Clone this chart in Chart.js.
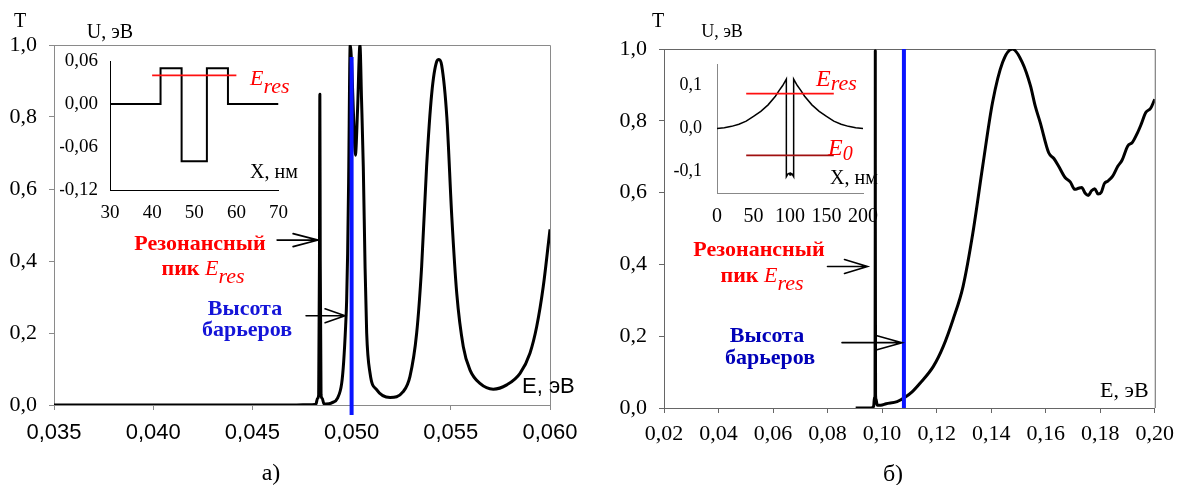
<!DOCTYPE html>
<html><head><meta charset="utf-8">
<script src="https://cdn.jsdelivr.net/npm/chart.js@4/dist/chart.umd.min.js"></script>
<style>
body{margin:0;width:1182px;height:485px;background:#fff;position:relative;overflow:hidden;font-family:'Liberation Serif',serif;}
canvas{position:absolute;}
.tx{position:absolute;white-space:nowrap;line-height:1;}
</style></head><body>
<canvas id="mainA" width="590" height="485" style="left:0;top:0"></canvas>
<canvas id="mainB" width="582" height="485" style="left:600px;top:0"></canvas>
<canvas id="insA" width="240" height="210" style="left:60px;top:20px"></canvas>
<canvas id="insB" width="220" height="240" style="left:670px;top:20px"></canvas>
<div id="txt"></div>
<script>
// ---------- DATA ----------
// Panel a) transmission T(E)
const eA = [0.035,0.0470,0.0480,0.0482,0.04828,0.04834,0.04838,0.0484,0.04842,0.04846,0.04852,0.0486,0.0487,0.0490,0.0493,0.0495,0.0496,0.0497,0.04975,0.0498,0.04985,0.04993,0.0500,0.0501,0.05019,0.0503,0.05042,0.0505,0.05059,0.05068,0.05076,0.05093,0.05127,0.05194,0.0526,0.05294,0.05328,0.05353,0.05378,0.05404,0.05429,0.0544,0.05454,0.0548,0.05505,0.0553,0.05563,0.05597,0.05647,0.05714,0.05782,0.05849,0.05899,0.05933,0.05966,0.060];
const tA = [0,0,0.001,0.002,0.018,0.028,0.4,0.863,0.4,0.028,0.018,0.004,0.003,0.006,0.02,0.06,0.12,0.22,0.29,0.42,0.62,1.0,0.95,0.80,0.694,0.82,1.0,0.85,0.66,0.38,0.2,0.088,0.042,0.021,0.037,0.079,0.2,0.384,0.662,0.866,0.954,0.96,0.944,0.80,0.523,0.31,0.162,0.097,0.06,0.044,0.056,0.088,0.144,0.218,0.329,0.488];
const barrierA = 0.050;
const barrierAT = [-0.028, 0.967];
const xTicksA = [0.035,0.040,0.045,0.050,0.055,0.060];
const yTicksMain = [0,0.2,0.4,0.6,0.8,1.0];
// Panel a) inset potential U(X)
const xInA = [30,42,42,47,47,53,53,58,58,70];
const uInA = [0,0,0.05,0.05,-0.08,-0.08,0.05,0.05,0,0];
const eResInA = [40,60];
const eResUA = 0.04;
const xTicksInA = [30,40,50,60,70];
const yTicksInA = [-0.12,-0.06,0,0.06];

// Panel б) transmission T(E)
const eB = [0.0903,0.0960,0.0969,0.0972,0.0974,0.09748,0.0975,0.09752,0.0976,0.0978,0.0981,0.0983,0.0995,0.1015,0.1055,0.1084,0.1110,0.1139,0.1188,0.1224,0.126,0.1297,0.1333,0.1369,0.1405,0.1442,0.1478,0.1514,0.1544,0.1562,0.158,0.1611,0.1630,0.1647,0.1671,0.1690,0.1707,0.1720,0.1732,0.1745,0.1756,0.1768,0.178,0.1792,0.1804,0.1815,0.1828,0.1845,0.1865,0.1880,0.1901,0.1918,0.1937,0.1950,0.1967,0.1985,0.20];
const tB = [0,0,0.005,0.03,0.035,0.5,0.995,0.5,0.035,0.025,0.01,0.008,0.008,0.012,0.018,0.03,0.045,0.069,0.116,0.171,0.246,0.339,0.488,0.674,0.851,0.963,1.0,0.963,0.898,0.84,0.795,0.711,0.695,0.674,0.642,0.63,0.609,0.612,0.614,0.598,0.592,0.605,0.611,0.596,0.601,0.625,0.632,0.645,0.674,0.69,0.73,0.74,0.767,0.79,0.823,0.835,0.86];
const barrierB = 0.108;
const barrierBT = [0, 1.0];
const xTicksB = [0.02,0.04,0.06,0.08,0.10,0.12,0.14,0.16,0.18,0.20];
// Panel б) inset potential U(X)
const xInB = [0,10,20,30,40,50,60,70,80,85,90,95,95,97,99,100,101,103,105,105,110,115,120,130,140,150,160,170,180,190,200];
const uInB = [0,0.002,0.005,0.01,0.017,0.028,0.04,0.055,0.075,0.088,0.1,0.115,-0.112,-0.106,-0.104,-0.108,-0.104,-0.106,-0.112,0.115,0.1,0.088,0.075,0.055,0.04,0.028,0.017,0.01,0.005,0.002,0];
const eResInB = [40,160];
const eResUB = 0.081;
const e0InB = [40,160];
const e0UB = -0.0625;
const xTicksInB = [0,50,100,150,200];
const yTicksInB = [-0.1,0,0.1];

// ---------- HELPERS ----------
const zip = (xs, ys) => xs.map((x,i)=>({x, y: ys[i]}));
const hline = (xs, y) => xs.map(x=>({x, y}));
const comma = d => v => Number(v).toFixed(d).replace('.', ',');
const setTicks = arr => s => { s.ticks = arr.map(v=>({value:v})); };

const framePlugin = {
  id:'frame',
  beforeDatasetsDraw(c, a, o){
    if(!o || !o.color) return;
    const {left,top,right,bottom} = c.chartArea, ctx = c.ctx;
    ctx.save(); ctx.strokeStyle = o.color; ctx.lineWidth = 1;
    ctx.beginPath();
    ctx.moveTo(left, top+0.5); ctx.lineTo(right+0.5, top+0.5); ctx.lineTo(right+0.5, bottom);
    ctx.stroke(); ctx.restore();
  }
};
const arrowPlugin = {
  id:'arrows',
  afterDatasetsDraw(c, a, o){
    if(!o || !o.list) return;
    const ctx = c.ctx, xs = c.scales.x, ys = c.scales.y;
    ctx.save(); ctx.strokeStyle = '#000'; ctx.lineWidth = 1.6; ctx.lineCap='round';
    o.list.forEach(ar=>{
      const px = xs.getPixelForValue(ar.x), py = ys.getPixelForValue(ar.y);
      ctx.beginPath();
      ctx.moveTo(px - ar.len, py); ctx.lineTo(px, py);
      ctx.moveTo(px - ar.head, py - ar.hw); ctx.lineTo(px, py); ctx.lineTo(px - ar.head, py + ar.hw);
      ctx.stroke();
    });
    ctx.restore();
  }
};

function mainChart(id, cfg){
  return new Chart(document.getElementById(id), {
    type:'line',
    data:{datasets:[
      {data: cfg.blue, borderColor:'#0a14ff', borderWidth:4, pointRadius:0, clip:false, order:0},
      {data: cfg.curve, borderColor:'#000', borderWidth:3, pointRadius:0, cubicInterpolationMode:'monotone', borderJoinStyle:'round', order:1}
    ]},
    plugins:[framePlugin, arrowPlugin],
    options:{
      responsive:false, animation:false, events:[],
      layout:{padding:{left:0, top:cfg.padTop, right:cfg.padRight, bottom:0}},
      plugins:{legend:{display:false}, tooltip:{enabled:false}, frame:{color:cfg.axisColor}, arrows:{list:cfg.arrows}},
      scales:{
        x:{type:'linear', min:cfg.xmin, max:cfg.xmax, afterBuildTicks:setTicks(cfg.xticks),
           afterFit:s=>{s.height = cfg.xH;},
           grid:{display:true, drawOnChartArea:false, drawTicks:true, tickLength:5, color:cfg.axisColor},
           border:{display:true, color:cfg.axisColor, width:1},
           ticks:{callback:comma(cfg.xdec), maxRotation:0, autoSkip:false, padding:cfg.xPad, color:'#000', font:{family:cfg.xFont, size:22}}},
        y:{type:'linear', min:0, max:1, afterBuildTicks:setTicks(yTicksMain),
           afterFit:s=>{s.width = cfg.yW;},
           grid:{display:true, drawOnChartArea:false, drawTicks:true, tickLength:5, color:cfg.axisColor},
           border:{display:true, color:cfg.axisColor, width:1},
           ticks:{callback:comma(1), padding:12, color:'#000', font:{family:'Liberation Serif', size:22}}}
      }
    }
  });
}

function insetChart(id, cfg){
  return new Chart(document.getElementById(id), {
    type:'line',
    data:{datasets: cfg.datasets},
    options:{
      responsive:false, animation:false, events:[],
      layout:{padding:{left:0, top:cfg.padTop, right:cfg.padRight, bottom:0}},
      plugins:{legend:{display:false}, tooltip:{enabled:false}},
      scales:{
        x:{type:'linear', min:cfg.xmin, max:cfg.xmax, afterBuildTicks:setTicks(cfg.xticks),
           afterFit:s=>{s.height = cfg.xH;},
           grid:{display:true, drawOnChartArea:false, drawTicks:false},
           border:{display:true, color:cfg.axisColor, width:1},
           ticks:{maxRotation:0, autoSkip:false, padding:cfg.xPad, color:'#000', font:{family:'Liberation Serif', size:cfg.xFs}}},
        y:{type:'linear', min:cfg.ymin, max:cfg.ymax, afterBuildTicks:setTicks(cfg.yticks),
           afterFit:s=>{s.width = cfg.yW;},
           grid:{display:true, drawOnChartArea:false, drawTicks:false},
           border:{display:true, color:cfg.axisColor, width:1},
           ticks:{callback:comma(cfg.ydec), padding:cfg.yPad, color:'#000', font:{family:'Liberation Serif', size:cfg.yFs}}}
      }
    }
  });
}

// ---------- CHARTS ----------
mainChart('mainA', {
  curve: zip(eA, tA), blue: hline(barrierAT, 0).map((p,i)=>({x:barrierA, y:barrierAT[i]})),
  xmin:0.035, xmax:0.060, xticks:xTicksA, xdec:3, xFont:'Liberation Sans', xPad:10,
  padTop:45, padRight:40, yW:54, xH:80, axisColor:'#8a8a8a',
  arrows:[{x:0.04831, y:0.458, len:41, head:25, hw:6.5},{x:0.04967, y:0.248, len:39, head:20, hw:7}]
});
mainChart('mainB', {
  curve: zip(eB, tB), blue: barrierBT.map(t=>({x:barrierB, y:t})),
  xmin:0.02, xmax:0.20, xticks:xTicksB, xdec:2, xFont:'Liberation Serif', xPad:8,
  padTop:49, padRight:21, yW:64, xH:77, axisColor:'#666',
  arrows:[{x:0.09464, y:0.394, len:40, head:23, hw:7},{x:0.1073, y:0.182, len:60, head:25, hw:7}]
});
insetChart('insA', {
  datasets:[
    {data: hline(eResInA, eResUA), borderColor:'#ff1010', borderWidth:1.6, pointRadius:0, order:0},
    {data: zip(xInA, uInA), borderColor:'#000', borderWidth:2, pointRadius:0, tension:0, order:1}
  ],
  xmin:30, xmax:70, xticks:xTicksInA, ymin:-0.12, ymax:0.06, yticks:yTicksInA, ydec:2,
  padTop:41, padRight:13, yW:50, xH:40, axisColor:'#000', xPad:12, yPad:12, xFs:19, yFs:19
});
insetChart('insB', {
  datasets:[
    {data: hline(eResInB, eResUB), borderColor:'#ff1010', borderWidth:1.6, pointRadius:0, order:0},
    {data: hline(e0InB, e0UB), borderColor:'#a01010', borderWidth:1.6, pointRadius:0, order:0},
    {data: zip(xInB, uInB), borderColor:'#000', borderWidth:1.5, pointRadius:0, tension:0, order:1}
  ],
  xmin:0, xmax:200, xticks:xTicksInB, ymin:-0.15, ymax:0.15, yticks:yTicksInB, ydec:1,
  padTop:44, padRight:20, yW:47, xH:67, axisColor:'#888', xPad:12, yPad:15, xFs:20, yFs:18
});

// ---------- TEXT ----------
const txt = document.getElementById('txt');
function addText(x, baseline, html, size, opts={}){
  const d = document.createElement('div');
  d.className = 'tx';
  d.innerHTML = html;
  const fam = opts.family || "'Liberation Serif', serif";
  d.style.fontFamily = fam;
  d.style.fontSize = size + 'px';
  d.style.top = (baseline - 0.84*size) + 'px';
  d.style.left = x + 'px';
  if(opts.center) d.style.transform = 'translateX(-50%)';
  if(opts.color) d.style.color = opts.color;
  if(opts.bold) d.style.fontWeight = 'bold';
  txt.appendChild(d);
}
const RED = '#ff0000';
const eres = (sz, off) => `<i style="font-weight:normal">E</i><i style="font-weight:normal;position:relative;top:${off}px;font-size:${sz}px">res</i>`;
// panel a
addText(20, 27, 'T', 20, {center:true});
addText(110, 38, 'U, эВ', 20, {center:true});
addText(250, 178, 'X, нм', 20);
addText(250, 85, eres(22, 8), 22, {color:RED});
addText(522, 393, 'E, эВ', 22, {family:"'Liberation Sans', sans-serif"});
addText(271, 480, 'а)', 24, {center:true});
addText(200, 250, 'Резонансный', 22, {center:true, bold:true, color:RED});
addText(203, 275, 'пик ' + eres(22, 8), 22, {center:true, bold:true, color:RED});
addText(245, 315, 'Высота', 22, {center:true, bold:true, color:'#1414d8'});
addText(247, 336, 'барьеров', 22, {center:true, bold:true, color:'#1414d8'});
// panel б
addText(658, 27, 'T', 20, {center:true});
addText(722, 37, 'U, эВ', 18, {center:true});
addText(830, 184, 'X, нм', 20);
addText(816, 86, '<i>E</i><i style="position:relative;top:4px;font-size:22px">res</i>', 24, {color:RED});
addText(828, 155, '<i>E</i><i style="position:relative;top:5px;font-size:20px">0</i>', 24, {color:RED});
addText(1100, 397, 'E, эВ', 22);
addText(893, 481, 'б)', 24, {center:true});
addText(759, 256, 'Резонансный', 22, {center:true, bold:true, color:RED});
addText(762, 282, 'пик ' + eres(22, 8), 22, {center:true, bold:true, color:RED});
addText(767, 342, 'Высота', 22, {center:true, bold:true, color:'#0000b8'});
addText(770, 364, 'барьеров', 22, {center:true, bold:true, color:'#0000b8'});
</script>
</body></html>
